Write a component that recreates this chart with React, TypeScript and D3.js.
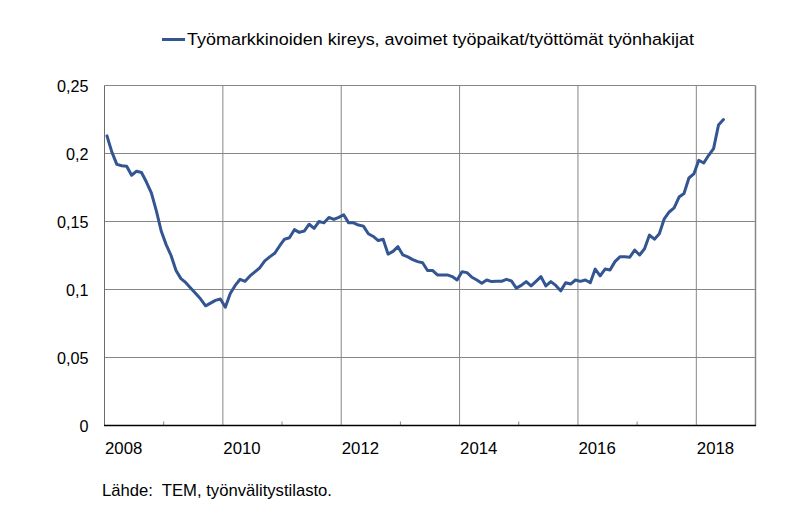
import React from "react";
import * as d3 from "d3";

const seriesName = "Työmarkkinoiden kireys, avoimet työpaikat/työttömät työnhakijat";
const sourceNote = "Lähde:  TEM, työnvälitystilasto.";
const startYear = 2008;
const yTicks = [0, 0.05, 0.1, 0.15, 0.2, 0.25];
const xGridYears = [2010, 2012, 2014, 2016, 2018];
const xLabelYears = [2008, 2010, 2012, 2014, 2016, 2018];
const xMinorYears = [2009, 2011, 2013, 2015, 2017];

// monthly values Jan 2008 – Jun 2018
const v2008 = [0.213, 0.201, 0.192, 0.191, 0.1906, 0.184, 0.187, 0.186, 0.179, 0.171, 0.158, 0.143];
const v2009 = [0.133, 0.125, 0.114, 0.108, 0.105, 0.101, 0.097, 0.093, 0.088, 0.09, 0.092, 0.093];
const v2010 = [0.087, 0.097, 0.103, 0.1075, 0.106, 0.11, 0.113, 0.116, 0.121, 0.124, 0.1266, 0.132];
const v2011 = [0.137, 0.138, 0.144, 0.142, 0.143, 0.148, 0.145, 0.15, 0.149, 0.153, 0.1515, 0.153];
const v2012 = [0.155, 0.149, 0.149, 0.1474, 0.1466, 0.141, 0.139, 0.136, 0.137, 0.126, 0.128, 0.1315];
const v2013 = [0.1254, 0.124, 0.122, 0.1205, 0.1197, 0.114, 0.114, 0.1107, 0.1107, 0.1107, 0.1095, 0.107];
const v2014 = [0.113, 0.1124, 0.109, 0.107, 0.1046, 0.107, 0.1058, 0.106, 0.106, 0.1075, 0.1063, 0.101];
const v2015 = [0.103, 0.1058, 0.1026, 0.106, 0.1095, 0.1026, 0.1058, 0.103, 0.099, 0.105, 0.104, 0.107];
const v2016 = [0.106, 0.107, 0.105, 0.115, 0.11, 0.115, 0.1144, 0.1205, 0.124, 0.124, 0.1237, 0.129];
const v2017 = [0.1254, 0.13, 0.14, 0.137, 0.141, 0.152, 0.157, 0.16, 0.168, 0.1706, 0.182, 0.185];
const v2018 = [0.195, 0.193, 0.1987, 0.2036, 0.221, 0.225];

const values = [...v2008, ...v2009, ...v2010, ...v2011, ...v2012, ...v2013, ...v2014, ...v2015, ...v2016, ...v2017, ...v2018];

const W = 800;
const H = 523;
const FONT = "'Liberation Sans', Arial, sans-serif";
const LINE_COLOR = "#335592";
const GRID = "#878787";

export default function App() {
  const x = d3.scaleLinear().domain([2008, 2019]).range([104.5, 755.5]);
  const y = d3.scaleLinear().domain([0, 0.25]).range([425.5, 85.5]);
  const data = values.map((v, i) => ({ t: startYear + (i + 0.5) / 12, v }));
  const line = d3
    .line<{ t: number; v: number }>()
    .x((d) => x(d.t))
    .y((d) => y(d.v))
    .curve(d3.curveLinear);
  const fmt = (v: number) => String(+v.toFixed(2)).replace(".", ",");
  const [x0, x1] = x.range();
  const [yb, yt] = y.range();

  return (
    <svg
      width={W}
      height={H}
      style={{ position: "absolute", left: 0, top: 0, background: "#fff" }}
      fontFamily={FONT}
    >
      <rect x={0} y={0} width={W} height={H} fill="#fff" />
      {/* horizontal gridlines */}
      {yTicks.slice(1).map((t) => (
        <line key={"h" + t} x1={x0} x2={x1} y1={y(t)} y2={y(t)} stroke={GRID} strokeWidth={1} />
      ))}
      {/* vertical gridlines */}
      {xGridYears.map((yr) => (
        <line key={"v" + yr} x1={x(yr)} x2={x(yr)} y1={yt} y2={yb} stroke={GRID} strokeWidth={1} />
      ))}
      {/* right border */}
      <line x1={x1} x2={x1} y1={yt} y2={yb} stroke={GRID} strokeWidth={1.5} />
      {/* left axis */}
      <line x1={x0} x2={x0} y1={yt} y2={yb} stroke="#6b6b6b" strokeWidth={1} />
      {/* minor ticks */}
      {xMinorYears.map((yr) => (
        <line key={"m" + yr} x1={x(yr)} x2={x(yr)} y1={yb} y2={yb - 4} stroke={GRID} strokeWidth={1} />
      ))}
      {/* bottom axis */}
      <line x1={x0 - 0.5} x2={x1 + 0.5} y1={yb} y2={yb} stroke="#000" strokeWidth={1.5} />
      {/* y labels */}
      {yTicks.map((t) => (
        <text key={"yl" + t} x={88.5} y={y(t) + 6} textAnchor="end" fontSize={16.2} fill="#000">
          {fmt(t)}
        </text>
      ))}
      {/* x labels */}
      {xLabelYears.map((yr) => (
        <text key={"xl" + yr} x={x(yr) + 0.5} y={453.5} textAnchor="start" fontSize={16.8} fill="#000">
          {yr}
        </text>
      ))}
      {/* data line */}
      <path d={line(data) || ""} fill="none" stroke={LINE_COLOR} strokeWidth={3} strokeLinejoin="round" strokeLinecap="round" />
      {/* legend */}
      <line x1={162} x2={185} y1={39.5} y2={39.5} stroke={LINE_COLOR} strokeWidth={3} />
      <text x={187} y={45} fontSize={16.8} fill="#000" textLength={507} lengthAdjust="spacingAndGlyphs">
        {seriesName}
      </text>
      {/* source */}
      <text x={102} y={496} fontSize={16.6} fill="#000" style={{ whiteSpace: "pre" }} textLength={230} lengthAdjust="spacingAndGlyphs">
        {sourceNote}
      </text>
    </svg>
  );
}
